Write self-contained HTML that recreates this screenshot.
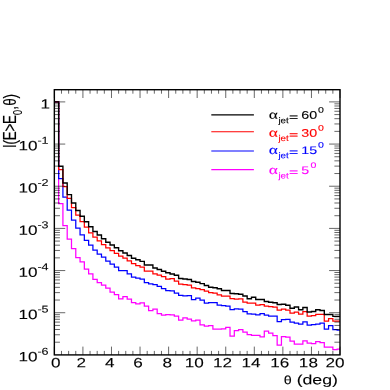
<!DOCTYPE html>
<html><head><meta charset="utf-8"><style>
html,body{margin:0;padding:0;background:#fff;}
svg{display:block}
text{font-family:"Liberation Sans",sans-serif;stroke-width:0.1px;}
</style></head><body>
<svg width="390" height="390" viewBox="0 0 390 390">
<defs><filter id="soft" x="0" y="0" width="390" height="390" filterUnits="userSpaceOnUse"><feGaussianBlur stdDeviation="0.22"/></filter></defs>
<rect width="390" height="390" fill="#fff"/>
<g filter="url(#soft)">
<g fill="none" stroke-width="1.25" stroke-linejoin="miter">
<path stroke="#ff00ff" d="M54.35 101.90H58.63V203.50H62.92V225.50H67.20V239.10H71.49V248.50H75.77V257.50H80.06V261.80H84.34V269.20H88.63V273.80H92.91V279.30H97.20V282.50H101.48V285.10H105.77V288.00H110.05V292.00H114.34V294.50H118.62V298.80H122.91V296.50H127.19V299.00H131.48V302.50H135.76V303.90H140.04V302.80H144.33V306.20H148.61V310.50H152.90V309.00H157.18V313.50H161.47V315.00H165.75V314.50H170.04V314.80H174.32V316.20H178.61V320.00H182.89V317.80H187.18V319.20H191.46V320.80H195.75V320.20H200.03V324.80H204.32V326.20H208.60V325.50H212.89V329.00H217.17V329.20H221.46V328.90H225.74V327.30H230.02V336.00H234.31V330.50H238.59V329.50H242.88V332.20H247.16V334.50H251.45V335.40H255.73V335.30H260.02V336.80H264.30V331.00H268.59V333.00H272.87V335.50H277.16V345.00H281.44V336.60H285.73V337.10H290.01V341.20H294.30V344.20H298.58V344.20H302.87V340.90H307.15V343.10H311.44V343.70H315.72V341.60H320.00V342.50H324.29V347.00H328.57V347.00H332.86V349.50H337.14V349.00H340.00"/>
<path stroke="#0000ff" d="M54.35 101.90H58.63V178.50H62.92V197.20H67.20V210.00H71.49V220.00H75.77V228.10H80.06V234.90H84.34V240.30H88.63V245.00H92.91V250.00H97.20V254.00H101.48V257.00H105.77V261.20H110.05V264.00H114.34V267.00H118.62V270.60H122.91V270.60H127.19V273.80H131.48V277.00H135.76V278.00H140.04V279.00H144.33V282.70H148.61V283.80H152.90V284.60H157.18V286.40H161.47V288.70H165.75V290.50H170.04V290.80H174.32V293.00H178.61V295.30H182.89V295.80H187.18V295.50H191.46V299.50H195.75V298.00H200.03V300.00H204.32V303.10H208.60V302.50H212.89V302.50H217.17V305.20H221.46V305.70H225.74V306.10H230.02V309.50H234.31V308.90H238.59V309.00H242.88V311.60H247.16V313.90H251.45V314.00H255.73V314.80H260.02V313.70H264.30V315.00H268.59V316.00H272.87V316.20H277.16V321.60H281.44V319.50H285.73V319.30H290.01V322.00H294.30V323.10H298.58V324.20H302.87V321.80H307.15V325.10H311.44V324.50H315.72V324.20H320.00V323.00H324.29V329.00H328.57V325.60H332.86V329.50H337.14V330.20H340.00"/>
<path stroke="#ff0000" d="M54.35 101.90H58.63V169.50H62.92V186.50H67.20V198.30H71.49V207.50H75.77V215.00H80.06V221.50H84.34V227.10H88.63V232.80H92.91V237.20H97.20V240.80H101.48V244.50H105.77V247.90H110.05V250.60H114.34V253.30H118.62V256.20H122.91V258.20H127.19V260.80H131.48V263.50H135.76V265.50H140.04V267.20H144.33V271.00H148.61V271.00H152.90V273.80H157.18V275.00H161.47V276.50H165.75V279.00H170.04V278.50H174.32V281.20H178.61V284.00H182.89V284.50H187.18V285.00H191.46V287.90H195.75V288.50H200.03V289.60H204.32V291.20H208.60V292.50H212.89V293.20H217.17V294.80H221.46V296.20H225.74V296.20H230.02V298.50H234.31V299.20H238.59V298.80H242.88V302.00H247.16V303.00H251.45V303.00H255.73V305.00H260.02V304.50H264.30V306.00H268.59V306.50H272.87V307.00H277.16V310.00H281.44V309.00H285.73V310.00H290.01V313.00H294.30V312.00H298.58V314.20H302.87V311.50H307.15V316.10H311.44V315.50H315.72V314.30H320.00V314.30H324.29V321.20H328.57V318.50H332.86V321.20H337.14V321.20H340.00"/>
<path stroke="#000000" stroke-width="1.36" d="M54.35 101.90H58.63V166.20H62.92V183.00H67.20V194.60H71.49V203.00H75.77V210.50H80.06V216.30H84.34V221.80H88.63V226.80H92.91V231.50H97.20V235.00H101.48V238.80H105.77V242.20H110.05V245.00H114.34V247.80H118.62V250.80H122.91V253.00H127.19V255.50H131.48V258.20H135.76V259.80H140.04V261.40H144.33V265.00H148.61V265.00H152.90V268.00H157.18V269.50H161.47V271.20H165.75V272.80H170.04V274.00H174.32V275.20H178.61V278.50H182.89V279.00H187.18V279.50H191.46V281.50H195.75V282.30H200.03V283.60H204.32V285.50H208.60V287.20H212.89V287.80H217.17V288.80H221.46V290.50H225.74V290.50H230.02V293.50H234.31V293.80H238.59V294.20H242.88V296.00H247.16V298.80H251.45V297.20H255.73V299.50H260.02V299.50H264.30V301.50H268.59V302.20H272.87V302.80H277.16V304.50H281.44V304.20H285.73V305.30H290.01V308.20H294.30V307.00H298.58V309.80H302.87V307.50H307.15V312.00H311.44V311.50H315.72V309.70H320.00V310.50H324.29V314.50H328.57V314.50H332.86V316.40H337.14V316.40H340.00"/>
</g>
<path fill="none" stroke="#000" stroke-width="0.6" d="M54.35 354.90v-8.30M54.35 89.70v8.30M61.49 354.90v-4.00M61.49 89.70v4.00M68.63 354.90v-4.00M68.63 89.70v4.00M75.77 354.90v-4.00M75.77 89.70v4.00M82.91 354.90v-8.30M82.91 89.70v8.30M90.06 354.90v-4.00M90.06 89.70v4.00M97.20 354.90v-4.00M97.20 89.70v4.00M104.34 354.90v-4.00M104.34 89.70v4.00M111.48 354.90v-8.30M111.48 89.70v8.30M118.62 354.90v-4.00M118.62 89.70v4.00M125.76 354.90v-4.00M125.76 89.70v4.00M132.90 354.90v-4.00M132.90 89.70v4.00M140.04 354.90v-8.30M140.04 89.70v8.30M147.19 354.90v-4.00M147.19 89.70v4.00M154.33 354.90v-4.00M154.33 89.70v4.00M161.47 354.90v-4.00M161.47 89.70v4.00M168.61 354.90v-8.30M168.61 89.70v8.30M175.75 354.90v-4.00M175.75 89.70v4.00M182.89 354.90v-4.00M182.89 89.70v4.00M190.03 354.90v-4.00M190.03 89.70v4.00M197.17 354.90v-8.30M197.17 89.70v8.30M204.32 354.90v-4.00M204.32 89.70v4.00M211.46 354.90v-4.00M211.46 89.70v4.00M218.60 354.90v-4.00M218.60 89.70v4.00M225.74 354.90v-8.30M225.74 89.70v8.30M232.88 354.90v-4.00M232.88 89.70v4.00M240.02 354.90v-4.00M240.02 89.70v4.00M247.16 354.90v-4.00M247.16 89.70v4.00M254.30 354.90v-8.30M254.30 89.70v8.30M261.45 354.90v-4.00M261.45 89.70v4.00M268.59 354.90v-4.00M268.59 89.70v4.00M275.73 354.90v-4.00M275.73 89.70v4.00M282.87 354.90v-8.30M282.87 89.70v8.30M290.01 354.90v-4.00M290.01 89.70v4.00M297.15 354.90v-4.00M297.15 89.70v4.00M304.29 354.90v-4.00M304.29 89.70v4.00M311.44 354.90v-8.30M311.44 89.70v8.30M318.58 354.90v-4.00M318.58 89.70v4.00M325.72 354.90v-4.00M325.72 89.70v4.00M332.86 354.90v-4.00M332.86 89.70v4.00M340.00 354.90v-8.30M340.00 89.70v8.30M54.35 101.90h10.90M340.00 101.90h-10.90M54.35 144.07h10.90M340.00 144.07h-10.90M54.35 131.37h5.60M340.00 131.37h-5.60M54.35 123.95h5.60M340.00 123.95h-5.60M54.35 118.68h5.60M340.00 118.68h-5.60M54.35 114.59h5.60M340.00 114.59h-5.60M54.35 111.25h5.60M340.00 111.25h-5.60M54.35 108.43h5.60M340.00 108.43h-5.60M54.35 105.99h5.60M340.00 105.99h-5.60M54.35 103.83h5.60M340.00 103.83h-5.60M54.35 186.23h10.90M340.00 186.23h-10.90M54.35 173.54h5.60M340.00 173.54h-5.60M54.35 166.11h5.60M340.00 166.11h-5.60M54.35 160.85h5.60M340.00 160.85h-5.60M54.35 156.76h5.60M340.00 156.76h-5.60M54.35 153.42h5.60M340.00 153.42h-5.60M54.35 150.60h5.60M340.00 150.60h-5.60M54.35 148.15h5.60M340.00 148.15h-5.60M54.35 146.00h5.60M340.00 146.00h-5.60M54.35 228.40h10.90M340.00 228.40h-10.90M54.35 215.71h5.60M340.00 215.71h-5.60M54.35 208.28h5.60M340.00 208.28h-5.60M54.35 203.01h5.60M340.00 203.01h-5.60M54.35 198.93h5.60M340.00 198.93h-5.60M54.35 195.59h5.60M340.00 195.59h-5.60M54.35 192.77h5.60M340.00 192.77h-5.60M54.35 190.32h5.60M340.00 190.32h-5.60M54.35 188.16h5.60M340.00 188.16h-5.60M54.35 270.57h10.90M340.00 270.57h-10.90M54.35 257.87h5.60M340.00 257.87h-5.60M54.35 250.45h5.60M340.00 250.45h-5.60M54.35 245.18h5.60M340.00 245.18h-5.60M54.35 241.09h5.60M340.00 241.09h-5.60M54.35 237.75h5.60M340.00 237.75h-5.60M54.35 234.93h5.60M340.00 234.93h-5.60M54.35 232.49h5.60M340.00 232.49h-5.60M54.35 230.33h5.60M340.00 230.33h-5.60M54.35 312.73h10.90M340.00 312.73h-10.90M54.35 300.04h5.60M340.00 300.04h-5.60M54.35 292.61h5.60M340.00 292.61h-5.60M54.35 287.35h5.60M340.00 287.35h-5.60M54.35 283.26h5.60M340.00 283.26h-5.60M54.35 279.92h5.60M340.00 279.92h-5.60M54.35 277.10h5.60M340.00 277.10h-5.60M54.35 274.65h5.60M340.00 274.65h-5.60M54.35 272.50h5.60M340.00 272.50h-5.60M54.35 342.21h5.60M340.00 342.21h-5.60M54.35 334.78h5.60M340.00 334.78h-5.60M54.35 329.51h5.60M340.00 329.51h-5.60M54.35 325.43h5.60M340.00 325.43h-5.60M54.35 322.09h5.60M340.00 322.09h-5.60M54.35 319.27h5.60M340.00 319.27h-5.60M54.35 316.82h5.60M340.00 316.82h-5.60M54.35 314.66h5.60M340.00 314.66h-5.60"/>
<rect x="54.35" y="89.70" width="285.65" height="265.20" fill="none" stroke="#000" stroke-width="1.4"/>
<line x1="211.3" x2="253.9" y1="114.90" y2="114.90" stroke="#000" stroke-width="1.12"/>
<line x1="211.3" x2="253.9" y1="131.70" y2="131.70" stroke="#f00" stroke-width="1.12"/>
<line x1="211.3" x2="253.9" y1="151.00" y2="151.00" stroke="#00f" stroke-width="1.12"/>
<line x1="211.3" x2="253.9" y1="169.60" y2="169.60" stroke="#f0f" stroke-width="1.12"/>
<text transform="translate(60.57 367.20) scale(1.280 1) rotate(0.05)" font-size="13.40" text-anchor="end" fill="#000" stroke="#000">0</text>
<text transform="translate(86.10 367.20) scale(1.280 1) rotate(0.05)" font-size="13.40" text-anchor="end" fill="#000" stroke="#000">2</text>
<text transform="translate(114.45 367.20) scale(1.280 1) rotate(0.05)" font-size="13.40" text-anchor="end" fill="#000" stroke="#000">4</text>
<text transform="translate(142.75 367.20) scale(1.280 1) rotate(0.05)" font-size="13.40" text-anchor="end" fill="#000" stroke="#000">6</text>
<text transform="translate(172.04 367.20) scale(1.280 1) rotate(0.05)" font-size="13.40" text-anchor="end" fill="#000" stroke="#000">8</text>
<text transform="translate(203.70 367.20) scale(1.280 1) rotate(0.05)" font-size="13.40" text-anchor="end" fill="#000" stroke="#000">10</text>
<text transform="translate(232.10 367.20) scale(1.280 1) rotate(0.05)" font-size="13.40" text-anchor="end" fill="#000" stroke="#000">12</text>
<text transform="translate(260.50 367.20) scale(1.280 1) rotate(0.05)" font-size="13.40" text-anchor="end" fill="#000" stroke="#000">14</text>
<text transform="translate(289.20 367.20) scale(1.280 1) rotate(0.05)" font-size="13.40" text-anchor="end" fill="#000" stroke="#000">16</text>
<text transform="translate(317.94 367.20) scale(1.280 1) rotate(0.05)" font-size="13.40" text-anchor="end" fill="#000" stroke="#000">18</text>
<text transform="translate(344.47 367.20) scale(1.280 1) rotate(0.05)" font-size="13.40" text-anchor="end" fill="#000" stroke="#000">20</text>
<text transform="translate(40.40 108.40) scale(1.280 1) rotate(0.05)" font-size="13.40" fill="#000" stroke="#000">1</text>
<text transform="translate(37.50 150.37) scale(1.280 1) rotate(0.05)" font-size="13.40" text-anchor="end" fill="#000" stroke="#000">10</text>
<text transform="translate(37.40 143.87) scale(1.260 1) rotate(0.05)" font-size="10.00" fill="#000" stroke="#000">-1</text>
<text transform="translate(37.50 192.53) scale(1.280 1) rotate(0.05)" font-size="13.40" text-anchor="end" fill="#000" stroke="#000">10</text>
<text transform="translate(37.40 186.03) scale(1.260 1) rotate(0.05)" font-size="10.00" fill="#000" stroke="#000">-2</text>
<text transform="translate(37.50 234.70) scale(1.280 1) rotate(0.05)" font-size="13.40" text-anchor="end" fill="#000" stroke="#000">10</text>
<text transform="translate(37.40 228.20) scale(1.260 1) rotate(0.05)" font-size="10.00" fill="#000" stroke="#000">-3</text>
<text transform="translate(37.50 276.87) scale(1.280 1) rotate(0.05)" font-size="13.40" text-anchor="end" fill="#000" stroke="#000">10</text>
<text transform="translate(37.40 270.37) scale(1.260 1) rotate(0.05)" font-size="10.00" fill="#000" stroke="#000">-4</text>
<text transform="translate(37.50 319.03) scale(1.280 1) rotate(0.05)" font-size="13.40" text-anchor="end" fill="#000" stroke="#000">10</text>
<text transform="translate(37.40 312.53) scale(1.260 1) rotate(0.05)" font-size="10.00" fill="#000" stroke="#000">-5</text>
<text transform="translate(37.50 361.20) scale(1.280 1) rotate(0.05)" font-size="13.40" text-anchor="end" fill="#000" stroke="#000">10</text>
<text transform="translate(37.40 354.70) scale(1.260 1) rotate(0.05)" font-size="10.00" fill="#000" stroke="#000">-6</text>
<text transform="translate(283.70 384.20) scale(1.200 1) rotate(0.05)" font-size="12.00" fill="#000" stroke="#000">θ</text>
<text transform="translate(296.63 384.30) scale(1.322 1) rotate(0.05)" font-size="13.40" fill="#000" stroke="#000">(deg)</text>
<text transform="translate(15.7 148.10) scale(1.360 1) rotate(-90)" font-size="13.40" stroke="#000">I</text>
<text transform="translate(15.7 144.49) scale(1.360 1) rotate(-90)" font-size="13.40" stroke="#000">(</text>
<text transform="translate(15.7 140.16) scale(1.360 1) rotate(-90)" font-size="13.40" stroke="#000">E</text>
<text transform="translate(15.7 131.49) scale(1.360 1) rotate(-90)" font-size="13.40" stroke="#000">&gt;</text>
<text transform="translate(15.7 123.90) scale(1.360 1) rotate(-90)" font-size="13.40" stroke="#000">E</text>
<text transform="translate(15.7 109.80) scale(1.360 1) rotate(-90)" font-size="13.40" stroke="#000">,</text>
<text transform="translate(15.7 105.80) scale(1.360 1) rotate(-90)" font-size="13.40" stroke="#000">θ</text>
<text transform="translate(15.7 98.55) scale(1.360 1) rotate(-90)" font-size="13.40" stroke="#000">)</text>
<text transform="translate(21.7 114.90) scale(1.360 1) rotate(-90)" font-size="9.30" stroke="#000">0</text>
<text transform="translate(268.70 118.80) scale(1.330 1) rotate(0.05)" font-size="13.10" fill="#000" stroke="#000" style="font-family:'Liberation Serif'">α</text>
<text transform="translate(278.40 123.20) scale(1.170 1) rotate(0.05)" font-size="8.40" fill="#000" stroke="#000">jet</text>
<text transform="translate(288.90 120.40) scale(1.580 1) rotate(0.05)" font-size="10.00" fill="#000" stroke="#000">=</text>
<text transform="translate(301.20 118.80) scale(1.300 1) rotate(0.05)" font-size="11.00" fill="#000" stroke="#000">60</text>
<text transform="translate(317.90 112.50) scale(1.380 1) rotate(0.05)" font-size="7.70" fill="#000" stroke="#000">0</text>
<text transform="translate(268.70 136.70) scale(1.330 1) rotate(0.05)" font-size="13.10" fill="#f00" stroke="#f00" style="font-family:'Liberation Serif'">α</text>
<text transform="translate(278.40 141.10) scale(1.170 1) rotate(0.05)" font-size="8.40" fill="#f00" stroke="#f00">jet</text>
<text transform="translate(288.90 138.30) scale(1.580 1) rotate(0.05)" font-size="10.00" fill="#f00" stroke="#f00">=</text>
<text transform="translate(301.20 136.70) scale(1.300 1) rotate(0.05)" font-size="11.00" fill="#f00" stroke="#f00">30</text>
<text transform="translate(317.90 130.40) scale(1.380 1) rotate(0.05)" font-size="7.70" fill="#f00" stroke="#f00">0</text>
<text transform="translate(268.70 153.90) scale(1.330 1) rotate(0.05)" font-size="13.10" fill="#00f" stroke="#00f" style="font-family:'Liberation Serif'">α</text>
<text transform="translate(278.40 158.30) scale(1.170 1) rotate(0.05)" font-size="8.40" fill="#00f" stroke="#00f">jet</text>
<text transform="translate(288.90 155.50) scale(1.580 1) rotate(0.05)" font-size="10.00" fill="#00f" stroke="#00f">=</text>
<text transform="translate(301.20 153.90) scale(1.300 1) rotate(0.05)" font-size="11.00" fill="#00f" stroke="#00f">15</text>
<text transform="translate(317.90 147.60) scale(1.380 1) rotate(0.05)" font-size="7.70" fill="#00f" stroke="#00f">0</text>
<text transform="translate(268.70 174.00) scale(1.330 1) rotate(0.05)" font-size="13.10" fill="#f0f" stroke="#f0f" style="font-family:'Liberation Serif'">α</text>
<text transform="translate(278.40 178.40) scale(1.170 1) rotate(0.05)" font-size="8.40" fill="#f0f" stroke="#f0f">jet</text>
<text transform="translate(288.90 175.60) scale(1.580 1) rotate(0.05)" font-size="10.00" fill="#f0f" stroke="#f0f">=</text>
<text transform="translate(301.20 174.00) scale(1.300 1) rotate(0.05)" font-size="11.00" fill="#f0f" stroke="#f0f">5</text>
<text transform="translate(310.40 167.70) scale(1.380 1) rotate(0.05)" font-size="7.70" fill="#f0f" stroke="#f0f">0</text>
</g>
</svg></body></html>
